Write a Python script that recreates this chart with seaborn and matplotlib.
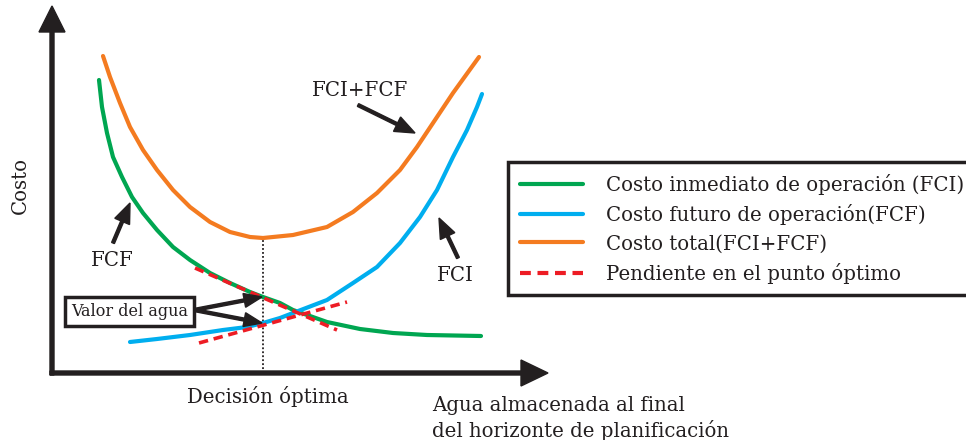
import matplotlib
matplotlib.use("Agg")
import matplotlib.pyplot as plt
import seaborn as sns
import pandas as pd
from matplotlib.patches import Rectangle
from matplotlib.lines import Line2D

sns.set_style("white")
plt.rcParams["font.family"] = ["DejaVu Serif"]

# ---- data (schematic units: x = agua almacenada, y = costo) ----
fci_x = [47, 50, 55, 61, 70, 80, 91, 105, 121, 138, 158, 178, 198, 211, 228, 241, 275, 308, 341, 375, 429]
fci_y = [293, 266, 240, 216, 196, 176, 160, 143, 126, 113, 100, 90, 81, 76, 70, 63, 51, 44, 40, 38, 37]

fcf_x = [78, 105, 138, 171, 195, 211, 228, 241, 275, 301, 325, 348, 368, 385, 401, 415, 425, 430]
fcf_y = [31, 34, 38, 43, 46, 50, 55, 60, 73, 90, 106, 130, 156, 183, 216, 243, 266, 279]

tot_x = [51, 58, 68, 78, 91, 105, 121, 138, 158, 178, 198, 211, 241, 275, 301, 325, 348, 365, 381, 401, 427]
tot_y = [317, 296, 270, 246, 223, 203, 183, 166, 151, 141, 136, 135, 138, 146, 161, 180, 203, 226, 250, 280, 316]

tan1_x = [143, 285]
tan1_y = [105, 43]
tan2_x = [147, 295]
tan2_y = [30, 71]

x_opt = 211
y_opt_min = 135

labels = ["Costo inmediato de operación (FCI)",
          "Costo futuro de operación(FCF)",
          "Costo total(FCI+FCF)",
          "Pendiente en el punto óptimo"]
colors = ["#00A651", "#00AEEF", "#F47B20", "#ED1C24"]
INK = "#231F20"

df = pd.concat([
    pd.DataFrame({"x": fci_x, "y": fci_y, "s": labels[0]}),
    pd.DataFrame({"x": fcf_x, "y": fcf_y, "s": labels[1]}),
    pd.DataFrame({"x": tot_x, "y": tot_y, "s": labels[2]}),
])
df_t1 = pd.DataFrame({"x": tan1_x, "y": tan1_y})
df_t2 = pd.DataFrame({"x": tan2_x, "y": tan2_y})

fig = plt.figure(figsize=(9.66, 4.40), dpi=100)
ax = fig.add_axes([0, 0, 1, 1])
ax.set_xlim(-52, 914)
ax.set_ylim(-67, 373)
ax.axis("off")

sns.lineplot(data=df, x="x", y="y", hue="s", palette=dict(zip(labels[:3], colors[:3])),
             hue_order=labels[:3], sort=False, estimator=None, lw=3, ax=ax, legend=False)
for ln in ax.lines:
    ln.set_solid_joinstyle("round")
for d in (df_t1, df_t2):
    sns.lineplot(data=d, x="x", y="y", color=colors[3], lw=2.6, ax=ax, legend=False,
                 sort=False, estimator=None)
for ln in ax.lines[-2:]:
    ln.set_linestyle((0, (2.6, 1.6)))

ax.plot([x_opt, x_opt], [0, y_opt_min], color=INK, lw=1.3, ls=(0, (1, 1.2)), zorder=1)

# axes with arrows
ax.arrow(0, -2, 0, 369, width=4, head_width=26, head_length=26,
         length_includes_head=True, color=INK, zorder=5)
ax.arrow(-2, 0, 498, 0, width=4, head_width=26, head_length=27,
         length_includes_head=True, color=INK, zorder=5)

def pointer(x0, y0, x1, y1, hw=16, hl=20):
    ax.arrow(x0, y0, x1 - x0, y1 - y0, width=3, head_width=hw, head_length=hl,
             length_includes_head=True, color=INK, zorder=6)

pointer(61, 130, 78, 170)
pointer(306, 268, 363, 240)
pointer(406, 115, 387, 155)
pointer(142, 63, 210, 76, hw=14, hl=18)
pointer(142, 63, 210, 50, hw=14, hl=18)

ax.add_patch(Rectangle((13, 47), 129, 29, fill=True, fc="white", ec=INK, lw=2.5, zorder=7))
ax.text(77.5, 61.5, "Valor del agua", ha="center", va="center", fontsize=11.5, color=INK, zorder=8)

fs = 14.2
ax.text(-32, 188, "Costo", rotation=90, ha="center", va="center", fontsize=fs, color=INK)
ax.text(60, 113, "FCF", ha="center", va="center", fontsize=fs, color=INK)
ax.text(308, 283, "FCI+FCF", ha="center", va="center", fontsize=fs, color=INK)
ax.text(403, 98, "FCI", ha="center", va="center", fontsize=fs, color=INK)
ax.text(216, -23, "Decisión óptima", ha="center", va="center", fontsize=fs, color=INK)
ax.text(380, -32, "Agua almacenada al final", ha="left", va="center", fontsize=fs, color=INK)
ax.text(380, -57, "del horizonte de planificación", ha="left", va="center", fontsize=fs, color=INK)

handles = [Line2D([], [], color=c, lw=3) for c in colors[:3]]
handles.append(Line2D([], [], color=colors[3], lw=3, ls=(0, (2.6, 1.6))))
leg = ax.legend(handles, labels, loc="upper left", bbox_to_anchor=(508 / 966, 1 - 162 / 440),
                bbox_transform=fig.transFigure, frameon=True, fancybox=False,
                edgecolor=INK, framealpha=1, borderaxespad=0, handlelength=3.2,
                handletextpad=1.15, borderpad=0.6, labelspacing=0.47,
                prop={"size": fs})
leg.get_frame().set_linewidth(2.5)
for t in leg.get_texts():
    t.set_color(INK)

fig.savefig("out.png", dpi=100)
